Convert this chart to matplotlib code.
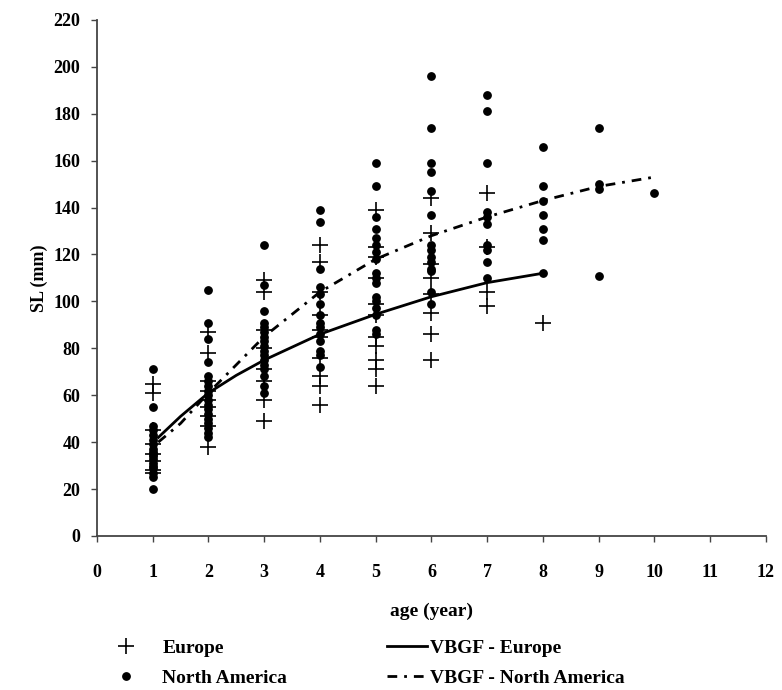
import matplotlib
matplotlib.use("Agg")
import matplotlib.pyplot as plt
import numpy as np

eu_age = [1] * 8 + [2] * 9 + [3] * 8 + [4] * 10 + [5] * 11 + [6] * 8 + [7] * 4 + [8]
eu_sl = [65, 61, 45, 39, 35, 32, 27, 28,
         87, 78, 66, 62, 58, 55, 51, 47, 38,
         109, 104, 88, 80, 71, 66, 58, 49,
         124, 117, 104, 94, 88, 85, 76, 68, 64, 56,
         139, 123, 119, 110, 99, 94, 85, 81, 75, 71, 64,
         144, 129, 116, 110, 103, 95, 86, 75,
         146, 123, 104, 98,
         91]

na_age = ([1] * 18 + [2] * 18 + [3] * 17 + [4] * 14 + [5] * 17 + [6] * 14
          + [7] * 10 + [8] * 7 + [9] * 4 + [10])
na_sl = [71, 55, 47, 45, 43, 41, 39, 37, 36, 35, 34, 33, 31, 30, 29, 27, 25, 20,
         105, 91, 84, 74, 68, 66, 64, 62, 60, 58, 56, 54, 52, 50, 48, 46, 44, 42,
         124, 107, 96, 91, 89, 87, 85, 83, 81, 79, 77, 75, 73, 71, 68, 64, 61,
         139, 134, 114, 106, 103, 99, 94, 91, 89, 86, 83, 79, 77, 72,
         159, 149, 136, 131, 127, 124, 121, 118, 112, 110, 108, 102, 100, 97, 94, 88, 86,
         196, 174, 159, 155, 147, 137, 124, 122, 119, 117, 114, 113, 104, 99,
         188, 181, 159, 138, 136, 133, 124, 122, 117, 110,
         166, 149, 143, 137, 131, 126, 112,
         174, 150, 148, 111,
         146]

# fitted VBGF curves
vb_eu_age = [1.1, 1.5, 2, 2.5, 3, 4, 5, 6, 7, 8]
vb_eu_sl = [42, 51, 61, 68.5, 75, 86, 94.5, 102, 108, 112]
vb_na_age = [1.1, 1.5, 2, 2.5, 3, 4, 5, 6, 7, 8, 9, 10]
vb_na_sl = [40, 48, 61, 73, 85, 104, 118, 128, 136, 143, 149, 153]

plt.rcParams["font.family"] = "Liberation Serif"
plt.rcParams["font.weight"] = "bold"

fig = plt.figure(figsize=(7.82, 6.9), dpi=100)
ax = fig.add_axes([0.124, 0.2232, 0.8555, 0.748])

h_eu, = ax.plot(eu_age, eu_sl, "+", color="black", ms=11, mew=1.2, ls="none", label="Europe")
h_na, = ax.plot(na_age, na_sl, "o", color="black", ms=5.3, ls="none", label="North America")
h_vbe, = ax.plot(vb_eu_age, vb_eu_sl, "-", color="black", lw=2, label="VBGF - Europe")
h_vbn, = ax.plot(vb_na_age, vb_na_sl, color="black", lw=2, dashes=[3.5, 2.5, 1, 2.5],
                 label="VBGF - North America")

ax.set_xlim(0, 12)
ax.set_ylim(0, 220)
ax.set_xticks(range(0, 13))
ax.set_yticks(range(0, 221, 20))
ax.spines["top"].set_visible(False)
ax.spines["right"].set_visible(False)
for side in ("left", "bottom"):
    ax.spines[side].set_color("#444444")
    ax.spines[side].set_linewidth(1.3)
ax.tick_params(labelsize=13, length=4, width=1, color="#444444", direction="out")
ax.tick_params(axis="x", pad=16)
ax.tick_params(axis="y", pad=8)
ax.set_xlabel("age (year)", fontsize=14, fontweight="bold", labelpad=16)
ax.set_ylabel("SL (mm)", fontsize=13, fontweight="bold", labelpad=4)

leg_kw = dict(frameon=False, fontsize=14, borderpad=0, borderaxespad=0,
              labelspacing=0.65, loc="center left")
fig.legend(handles=[h_eu, h_na], bbox_to_anchor=(0.1437, 0.039),
           handlelength=1.4, handletextpad=1.16, **leg_kw)
fig.legend(handles=[h_vbe, h_vbn], bbox_to_anchor=(0.495, 0.039),
           handlelength=2.06, handletextpad=0.15, **leg_kw)

fig.savefig("out.png", dpi=100)
